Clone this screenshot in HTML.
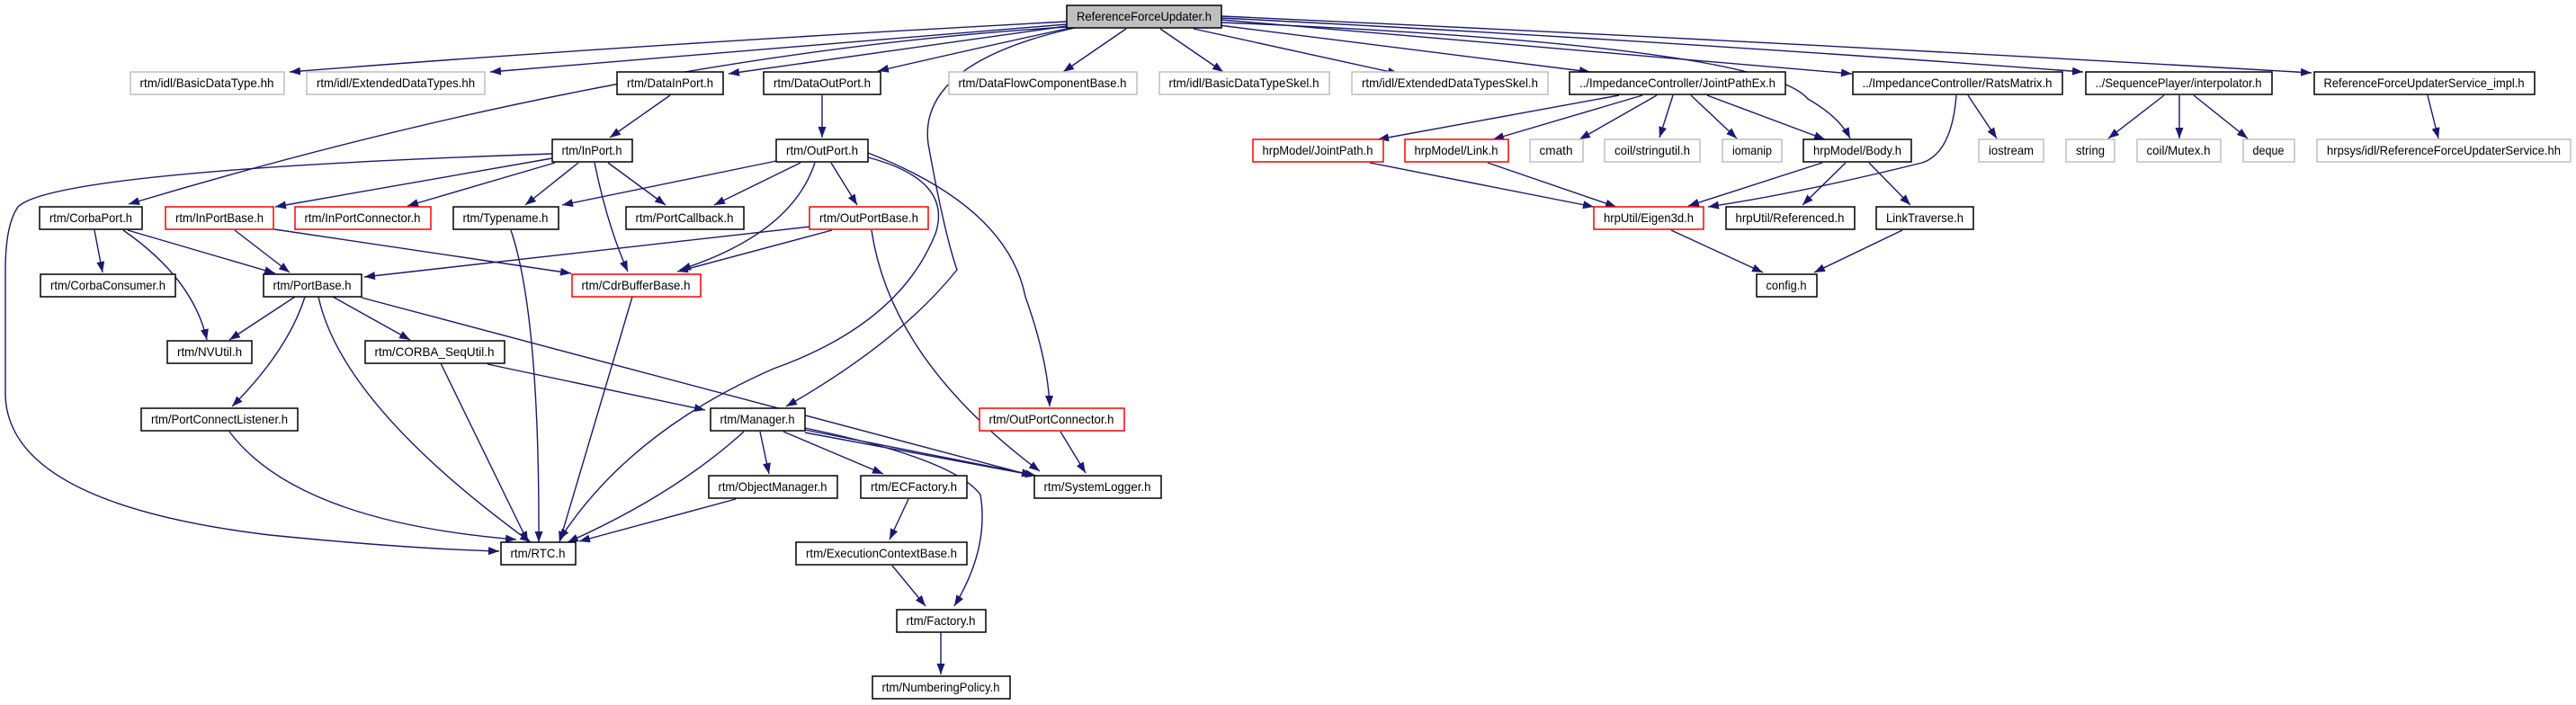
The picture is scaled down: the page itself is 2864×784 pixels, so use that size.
<!DOCTYPE html>
<html><head><meta charset="utf-8"><style>
html,body{margin:0;padding:0;background:#fff;}
svg{display:block}
text{font-family:"Liberation Sans",sans-serif;font-size:14px;text-anchor:middle;fill:#000}
.e{fill:none;stroke:#191970;stroke-width:1.4;marker-end:url(#a)}
.b{fill:#fff;stroke:#000;stroke-width:1.5}
.g{fill:#fff;stroke:#bfbfbf;stroke-width:1.5}
.r{fill:#fff;stroke:#ff0000;stroke-width:1.5}
</style></head><body>
<svg width="2864" height="784" viewBox="0 0 2864 784" xmlns="http://www.w3.org/2000/svg">
<defs><marker id="a" markerUnits="userSpaceOnUse" markerWidth="13" markerHeight="10" refX="12" refY="4.5" orient="auto"><path d="M0,0 L12,4.5 L0,9 z" fill="#191970"/></marker></defs>

<!-- edges from root -->
<path class="e" d="M1186,24 Q700,50 322,80"/>
<path class="e" d="M1186,27 Q850,55 545,80"/>
<path class="e" d="M1186,29 Q1000,55 810,82"/>
<path class="e" d="M1190,31 Q1080,55 976,79"/>
<path class="e" d="M1186,30 Q700,60 143,227"/>
<path class="e" d="M1195,31 Q1020,70 1032,160 Q1050,260 1064,300 Q1000,380 874,452"/>
<path class="e" d="M1252,32 L1182,80"/>
<path class="e" d="M1290,32 L1360,80"/>
<path class="e" d="M1327,32 L1555,82"/>
<path class="e" d="M1355,28 L1768,80"/>
<path class="e" d="M1358,22 Q1700,50 2059,82"/>
<path class="e" d="M1358,20 Q1850,45 2316,80"/>
<path class="e" d="M1358,18 Q1950,45 2570,81"/>
<path class="e" d="M1358,25 Q1960,50 2010,110 Q2045,130 2057,154"/>

<!-- row1 -> row2 -->
<path class="e" d="M745,106 L678,153"/>
<path class="e" d="M914,106 L914,153"/>
<path class="e" d="M1800,106 L1532,155"/>
<path class="e" d="M1826,106 L1660,155"/>
<path class="e" d="M1842,106 L1756,155"/>
<path class="e" d="M1860,106 L1845,153"/>
<path class="e" d="M1880,106 L1931,154"/>
<path class="e" d="M1898,106 L2029,155"/>
<path class="e" d="M2175,106 Q2170,170 2137,181 Q2000,215 1899,230"/>
<path class="e" d="M2188,106 L2220,154"/>
<path class="e" d="M2406,106 L2344,154"/>
<path class="e" d="M2423,106 L2423,154"/>
<path class="e" d="M2439,106 L2499,154"/>
<path class="e" d="M2699,106 L2711,154"/>

<!-- InPort -->
<path class="e" d="M614,171 Q60,190 20,230 Q6,250 6,300 L6,440 Q10,560 300,595 Q450,610 555,613"/>
<path class="e" d="M614,176 L306,230"/>
<path class="e" d="M617,181 L453,229"/>
<path class="e" d="M643,181 L584,228"/>
<path class="e" d="M661,181 Q675,250 698,302"/>
<path class="e" d="M676,181 L740,228"/>
<!-- OutPort -->
<path class="e" d="M863,179 L625,228"/>
<path class="e" d="M890,181 L794,228"/>
<path class="e" d="M906,181 Q880,260 756,300"/>
<path class="e" d="M924,181 L953,228"/>
<path class="e" d="M965,175 Q1060,200 1040,260 Q1000,360 860,410 Q700,480 622,600"/>
<path class="e" d="M965,170 Q1120,230 1140,330 Q1165,400 1167,452"/>
<!-- OutPortBase -->
<path class="e" d="M901,252 L405,308"/>
<path class="e" d="M925,256 L753,302"/>
<path class="e" d="M969,256 Q990,400 1156,524"/>
<!-- InPortBase -->
<path class="e" d="M261,256 L322,303"/>
<path class="e" d="M305,255 L635,304"/>
<!-- CorbaPort -->
<path class="e" d="M105,256 L114,303"/>
<path class="e" d="M142,256 L306,304"/>
<path class="e" d="M137,256 Q215,310 230,378"/>
<!-- Typename / CdrBufferBase -->
<path class="e" d="M568,256 Q600,350 599,603"/>
<path class="e" d="M703,330 L622,603"/>
<!-- PortBase -->
<path class="e" d="M328,330 L255,378"/>
<path class="e" d="M370,330 L456,378"/>
<path class="e" d="M339,330 Q320,390 258,452"/>
<path class="e" d="M354,330 Q380,450 590,603"/>
<path class="e" d="M402,331 L1148,529"/>
<!-- CORBA_SeqUtil -->
<path class="e" d="M490,404 L587,603"/>
<path class="e" d="M542,405 L784,456"/>
<!-- PortConnectListener -->
<path class="e" d="M255,480 Q330,580 574,600"/>
<!-- Manager -->
<path class="e" d="M827,480 Q750,550 631,603"/>
<path class="e" d="M845,480 L855,527"/>
<path class="e" d="M871,480 L982,527"/>
<path class="e" d="M895,478 L1148,528"/>
<path class="e" d="M895,481 L1152,529"/>
<path class="e" d="M895,476 Q1060,510 1090,550 Q1100,610 1061,674"/>
<path class="e" d="M818,555 L644,602"/>
<path class="e" d="M1179,480 L1207,526"/>
<path class="e" d="M1010,555 L989,600"/>
<path class="e" d="M992,629 L1029,674"/>
<path class="e" d="M1046,703 L1046,750"/>
<!-- right lower -->
<path class="e" d="M1523,181 L1772,230"/>
<path class="e" d="M1654,181 L1797,230"/>
<path class="e" d="M2026,181 L1877,229"/>
<path class="e" d="M2052,181 L2004,228"/>
<path class="e" d="M2078,181 L2124,228"/>
<path class="e" d="M1858,256 L1960,303"/>
<path class="e" d="M2115,256 L2017,303"/>

<!-- nodes -->
<rect x="1186" y="6" width="172" height="25" fill="#bfbfbf" stroke="#000" stroke-width="1.5"/><text x="1272" y="23" textLength="150" lengthAdjust="spacingAndGlyphs">ReferenceForceUpdater.h</text>

<rect class="g" x="145" y="80" width="171" height="25"/><text x="230" y="97" textLength="149" lengthAdjust="spacingAndGlyphs">rtm/idl/BasicDataType.hh</text>
<rect class="g" x="341" y="80" width="198" height="25"/><text x="440" y="97" textLength="176" lengthAdjust="spacingAndGlyphs">rtm/idl/ExtendedDataTypes.hh</text>
<rect class="b" x="686" y="80" width="118" height="25"/><text x="745" y="97" textLength="96" lengthAdjust="spacingAndGlyphs">rtm/DataInPort.h</text>
<rect class="b" x="849" y="80" width="130" height="25"/><text x="914" y="97" textLength="108" lengthAdjust="spacingAndGlyphs">rtm/DataOutPort.h</text>
<rect class="g" x="1055" y="80" width="209" height="25"/><text x="1159" y="97" textLength="187" lengthAdjust="spacingAndGlyphs">rtm/DataFlowComponentBase.h</text>
<rect class="g" x="1289" y="80" width="189" height="25"/><text x="1383" y="97" textLength="167" lengthAdjust="spacingAndGlyphs">rtm/idl/BasicDataTypeSkel.h</text>
<rect class="g" x="1503" y="80" width="218" height="25"/><text x="1612" y="97" textLength="196" lengthAdjust="spacingAndGlyphs">rtm/idl/ExtendedDataTypesSkel.h</text>
<rect class="b" x="1745" y="80" width="240" height="25"/><text x="1865" y="97" textLength="218" lengthAdjust="spacingAndGlyphs">../ImpedanceController/JointPathEx.h</text>
<rect class="b" x="2060" y="80" width="233" height="25"/><text x="2176" y="97" textLength="211" lengthAdjust="spacingAndGlyphs">../ImpedanceController/RatsMatrix.h</text>
<rect class="b" x="2319" y="80" width="207" height="25"/><text x="2422" y="97" textLength="185" lengthAdjust="spacingAndGlyphs">../SequencePlayer/interpolator.h</text>
<rect class="b" x="2573" y="80" width="245" height="25"/><text x="2695" y="97" textLength="223" lengthAdjust="spacingAndGlyphs">ReferenceForceUpdaterService_impl.h</text>

<rect class="b" x="614" y="155" width="89" height="25"/><text x="658" y="172" textLength="67" lengthAdjust="spacingAndGlyphs">rtm/InPort.h</text>
<rect class="b" x="863" y="155" width="102" height="25"/><text x="914" y="172" textLength="80" lengthAdjust="spacingAndGlyphs">rtm/OutPort.h</text>
<rect class="r" x="1393" y="155" width="145" height="25"/><text x="1465" y="172" textLength="123" lengthAdjust="spacingAndGlyphs">hrpModel/JointPath.h</text>
<rect class="r" x="1562" y="155" width="115" height="25"/><text x="1619" y="172" textLength="93" lengthAdjust="spacingAndGlyphs">hrpModel/Link.h</text>
<rect class="g" x="1701" y="155" width="59" height="25"/><text x="1730" y="172" textLength="37" lengthAdjust="spacingAndGlyphs">cmath</text>
<rect class="g" x="1784" y="155" width="106" height="25"/><text x="1837" y="172" textLength="84" lengthAdjust="spacingAndGlyphs">coil/stringutil.h</text>
<rect class="g" x="1915" y="155" width="66" height="25"/><text x="1948" y="172" textLength="44" lengthAdjust="spacingAndGlyphs">iomanip</text>
<rect class="b" x="2005" y="155" width="120" height="25"/><text x="2065" y="172" textLength="98" lengthAdjust="spacingAndGlyphs">hrpModel/Body.h</text>
<rect class="g" x="2200" y="155" width="72" height="25"/><text x="2236" y="172" textLength="50" lengthAdjust="spacingAndGlyphs">iostream</text>
<rect class="g" x="2297" y="155" width="54" height="25"/><text x="2324" y="172" textLength="32" lengthAdjust="spacingAndGlyphs">string</text>
<rect class="g" x="2376" y="155" width="93" height="25"/><text x="2422" y="172" textLength="71" lengthAdjust="spacingAndGlyphs">coil/Mutex.h</text>
<rect class="g" x="2494" y="155" width="57" height="25"/><text x="2522" y="172" textLength="35" lengthAdjust="spacingAndGlyphs">deque</text>
<rect class="g" x="2576" y="155" width="282" height="25"/><text x="2717" y="172" textLength="260" lengthAdjust="spacingAndGlyphs">hrpsys/idl/ReferenceForceUpdaterService.hh</text>

<rect class="b" x="44" y="230" width="114" height="25"/><text x="101" y="247" textLength="92" lengthAdjust="spacingAndGlyphs">rtm/CorbaPort.h</text>
<rect class="r" x="184" y="230" width="120" height="25"/><text x="244" y="247" textLength="98" lengthAdjust="spacingAndGlyphs">rtm/InPortBase.h</text>
<rect class="r" x="328" y="230" width="151" height="25"/><text x="403" y="247" textLength="129" lengthAdjust="spacingAndGlyphs">rtm/InPortConnector.h</text>
<rect class="b" x="504" y="230" width="117" height="25"/><text x="562" y="247" textLength="95" lengthAdjust="spacingAndGlyphs">rtm/Typename.h</text>
<rect class="b" x="696" y="230" width="131" height="25"/><text x="761" y="247" textLength="109" lengthAdjust="spacingAndGlyphs">rtm/PortCallback.h</text>
<rect class="r" x="900" y="230" width="132" height="25"/><text x="966" y="247" textLength="110" lengthAdjust="spacingAndGlyphs">rtm/OutPortBase.h</text>
<rect class="r" x="1772" y="230" width="122" height="25"/><text x="1833" y="247" textLength="100" lengthAdjust="spacingAndGlyphs">hrpUtil/Eigen3d.h</text>
<rect class="b" x="1919" y="230" width="143" height="25"/><text x="1990" y="247" textLength="121" lengthAdjust="spacingAndGlyphs">hrpUtil/Referenced.h</text>
<rect class="b" x="2086" y="230" width="108" height="25"/><text x="2140" y="247" textLength="86" lengthAdjust="spacingAndGlyphs">LinkTraverse.h</text>

<rect class="b" x="45" y="305" width="150" height="25"/><text x="120" y="322" textLength="128" lengthAdjust="spacingAndGlyphs">rtm/CorbaConsumer.h</text>
<rect class="b" x="293" y="305" width="109" height="25"/><text x="347" y="322" textLength="87" lengthAdjust="spacingAndGlyphs">rtm/PortBase.h</text>
<rect class="r" x="636" y="305" width="143" height="25"/><text x="707" y="322" textLength="121" lengthAdjust="spacingAndGlyphs">rtm/CdrBufferBase.h</text>
<rect class="b" x="1953" y="305" width="67" height="25"/><text x="1986" y="322" textLength="45" lengthAdjust="spacingAndGlyphs">config.h</text>

<rect class="b" x="186" y="379" width="94" height="25"/><text x="233" y="396" textLength="72" lengthAdjust="spacingAndGlyphs">rtm/NVUtil.h</text>
<rect class="b" x="406" y="379" width="155" height="25"/><text x="483" y="396" textLength="133" lengthAdjust="spacingAndGlyphs">rtm/CORBA_SeqUtil.h</text>

<rect class="b" x="157" y="454" width="174" height="25"/><text x="244" y="471" textLength="152" lengthAdjust="spacingAndGlyphs">rtm/PortConnectListener.h</text>
<rect class="b" x="790" y="454" width="105" height="25"/><text x="842" y="471" textLength="83" lengthAdjust="spacingAndGlyphs">rtm/Manager.h</text>
<rect class="r" x="1089" y="454" width="161" height="25"/><text x="1169" y="471" textLength="139" lengthAdjust="spacingAndGlyphs">rtm/OutPortConnector.h</text>

<rect class="b" x="788" y="529" width="143" height="25"/><text x="859" y="546" textLength="121" lengthAdjust="spacingAndGlyphs">rtm/ObjectManager.h</text>
<rect class="b" x="957" y="529" width="118" height="25"/><text x="1016" y="546" textLength="96" lengthAdjust="spacingAndGlyphs">rtm/ECFactory.h</text>
<rect class="b" x="1150" y="529" width="141" height="25"/><text x="1220" y="546" textLength="119" lengthAdjust="spacingAndGlyphs">rtm/SystemLogger.h</text>

<rect class="b" x="557" y="603" width="83" height="25"/><text x="598" y="620" textLength="61" lengthAdjust="spacingAndGlyphs">rtm/RTC.h</text>
<rect class="b" x="885" y="603" width="190" height="25"/><text x="980" y="620" textLength="168" lengthAdjust="spacingAndGlyphs">rtm/ExecutionContextBase.h</text>

<rect class="b" x="997" y="678" width="99" height="25"/><text x="1046" y="695" textLength="77" lengthAdjust="spacingAndGlyphs">rtm/Factory.h</text>
<rect class="b" x="970" y="752" width="153" height="25"/><text x="1046" y="769" textLength="131" lengthAdjust="spacingAndGlyphs">rtm/NumberingPolicy.h</text>
</svg>
</body></html>
